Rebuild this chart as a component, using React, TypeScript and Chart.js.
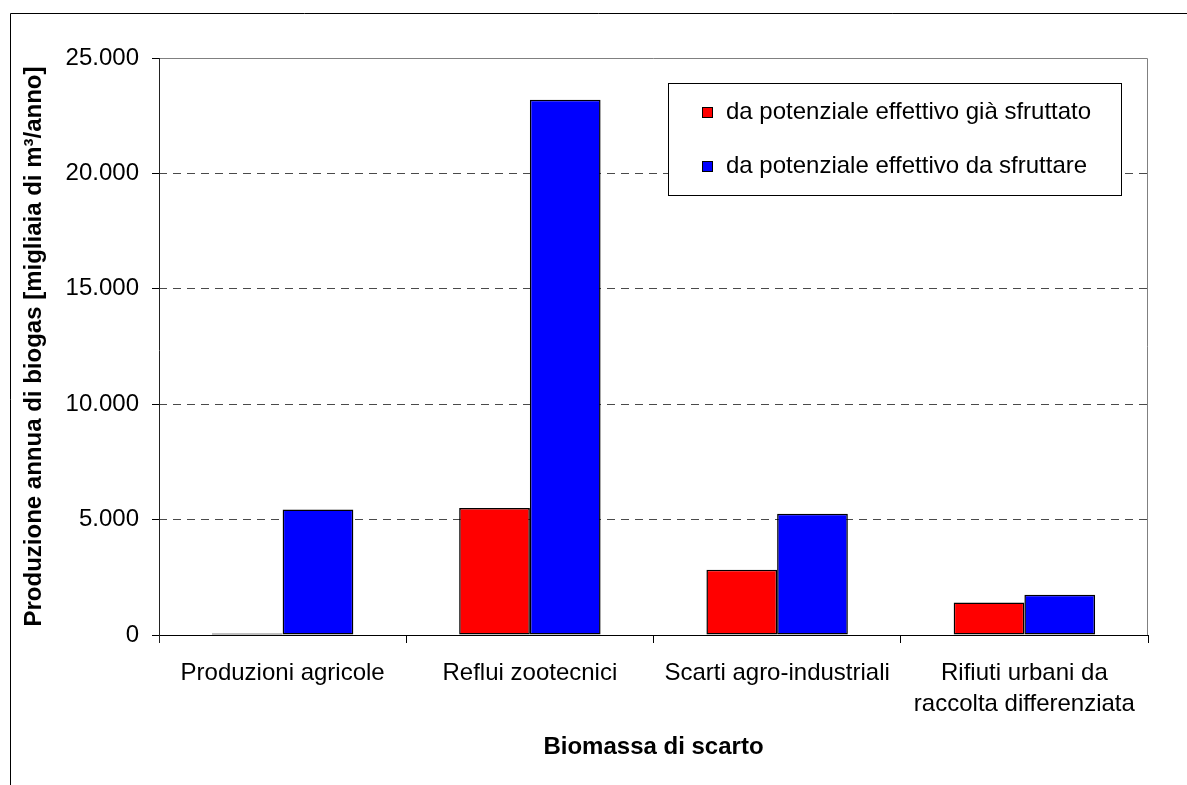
import React, { useEffect, useRef } from 'react';
import { Chart, registerables } from 'chart.js';

Chart.register(...registerables);

const categories: string[][] = [
  ['Produzioni agricole'],
  ['Reflui zootecnici'],
  ['Scarti agro-industriali'],
  ['Rifiuti urbani da', 'raccolta differenziata'],
];
const seriesNames = ['da potenziale effettivo già sfruttato', 'da potenziale effettivo da sfruttare'];
const giaSfruttato = [60, 5500, 2830, 1410];
const daSfruttare = [5440, 23190, 5255, 1745];
const yMin = 0;
const yMax = 25000;
const yStep = 5000;
const seriesColors = ['#FF0000', '#0000FF'];
const yTitle = 'Produzione annua di biogas [migliaia di m³/anno]';
const xTitle = 'Biomassa di scarto';

const FONT = '"Liberation Sans", Arial, Helvetica, sans-serif';

function fmtThousands(v: number): string {
  return String(Math.round(v)).replace(/\B(?=(\d{3})+(?!\d))/g, '.');
}

const decorPlugin = {
  id: 'decor',
  beforeDraw(chart: any) {
    const ctx = chart.ctx;
    ctx.save();
    ctx.fillStyle = '#ffffff';
    ctx.fillRect(0, 0, chart.width, chart.height);
    ctx.restore();
  },
  afterDraw(chart: any) {
    const ctx = chart.ctx as CanvasRenderingContext2D;
    const { left, right, top, bottom } = chart.chartArea;
    ctx.save();
    // outer chart frame
    ctx.strokeStyle = '#000';
    ctx.lineWidth = 1;
    ctx.setLineDash([]);
    ctx.beginPath();
    ctx.moveTo(10.5, chart.height);
    ctx.lineTo(10.5, 13.5);
    ctx.lineTo(chart.width, 13.5);
    ctx.stroke();
    // plot area border (top, right)
    ctx.strokeStyle = '#808080';
    ctx.beginPath();
    ctx.moveTo(left, top + 0.5);
    ctx.lineTo(right - 0.5, top + 0.5);
    ctx.lineTo(right - 0.5, bottom);
    ctx.stroke();
    // y axis line
    ctx.strokeStyle = '#222';
    ctx.beginPath();
    ctx.moveTo(left + 0.5, top);
    ctx.lineTo(left + 0.5, bottom + 8);
    ctx.stroke();

    // legend
    const bx = 668.5, by = 83.5, bw = 453, bh = 112;
    ctx.fillStyle = '#fff';
    ctx.fillRect(bx, by, bw, bh);
    ctx.strokeStyle = '#000';
    ctx.strokeRect(bx, by, bw, bh);
    ctx.font = `24px ${FONT}`;
    ctx.textBaseline = 'middle';
    ctx.textAlign = 'left';
    const rows = [112.5, 166.5];
    chart.data.datasets.forEach((ds: any, i: number) => {
      const cy = rows[i];
      ctx.fillStyle = ds.backgroundColor;
      ctx.fillRect(702, cy - 5.5, 11, 11);
      ctx.strokeStyle = '#000';
      ctx.strokeRect(702.5, cy - 5, 10, 10);
      ctx.fillStyle = '#000';
      ctx.fillText(ds.label, 726, cy);
    });
    ctx.restore();
  },
};

export default function App() {
  const ref = useRef<HTMLCanvasElement | null>(null);
  useEffect(() => {
    if (!ref.current) return;
    const chart = new Chart(ref.current, {
      type: 'bar',
      data: {
        labels: categories as any,
        datasets: [
          {
            label: seriesNames[0],
            data: giaSfruttato,
            backgroundColor: seriesColors[0],
            borderColor: '#000',
            borderWidth: 1.5,
            borderSkipped: false,
            categoryPercentage: 0.572,
            barPercentage: 1,
          },
          {
            label: seriesNames[1],
            data: daSfruttare,
            backgroundColor: seriesColors[1],
            borderColor: '#000',
            borderWidth: 1.5,
            borderSkipped: false,
            categoryPercentage: 0.572,
            barPercentage: 1,
          },
        ],
      },
      options: {
        animation: false,
        responsive: false,
        maintainAspectRatio: false,
        devicePixelRatio: 1,
        layout: { padding: { left: 0, top: 58, right: 39, bottom: 0 } },
        plugins: {
          legend: { display: false },
          tooltip: { enabled: false },
        },
        scales: {
          x: {
            afterFit(scale: any) {
              scale.height = 150;
            },
            grid: {
              display: true,
              drawOnChartArea: false,
              drawTicks: true,
              tickLength: 8,
              color: '#000',
              tickColor: '#000',
              offset: true,
            },
            border: { display: true, color: '#000', width: 1, dash: [] },
            ticks: {
              color: '#000',
              font: { family: FONT, size: 24, lineHeight: 1.3 },
              padding: 15,
              maxRotation: 0,
              autoSkip: false,
            },
            title: {
              display: true,
              text: xTitle,
              color: '#000',
              font: { family: FONT, size: 24, weight: 'bold' },
              padding: { top: 0, bottom: 23 },
            },
          },
          y: {
            min: yMin,
            max: yMax,
            afterFit(scale: any) {
              scale.width = 159;
            },
            grid: {
              display: true,
              drawOnChartArea: true,
              drawTicks: true,
              tickLength: 7,
              color: (ctx: any) =>
                ctx.tick && (ctx.tick.value === yMin || ctx.tick.value === yMax) ? 'rgba(0,0,0,0)' : '#4a4a4a',
              tickColor: '#000',
              tickBorderDash: [],
              lineWidth: 1,
            },
            border: { display: false, dash: [8, 6] },
            ticks: {
              stepSize: yStep,
              color: '#000',
              font: { family: FONT, size: 24 },
              padding: 13,
              callback: (v: any) => fmtThousands(Number(v)),
            },
            title: {
              display: true,
              text: yTitle,
              color: '#000',
              font: { family: FONT, size: 24, weight: 'bold' },
              padding: { top: 20, bottom: 0 },
            },
          },
        },
      },
      plugins: [decorPlugin],
    } as any);
    return () => chart.destroy();
  }, []);

  return (
    <div style={{ position: 'absolute', left: 0, top: 0, width: 1187, height: 785 }}>
      <canvas ref={ref} width={1187} height={785} style={{ display: 'block', width: 1187, height: 785 }} />
    </div>
  );
}
